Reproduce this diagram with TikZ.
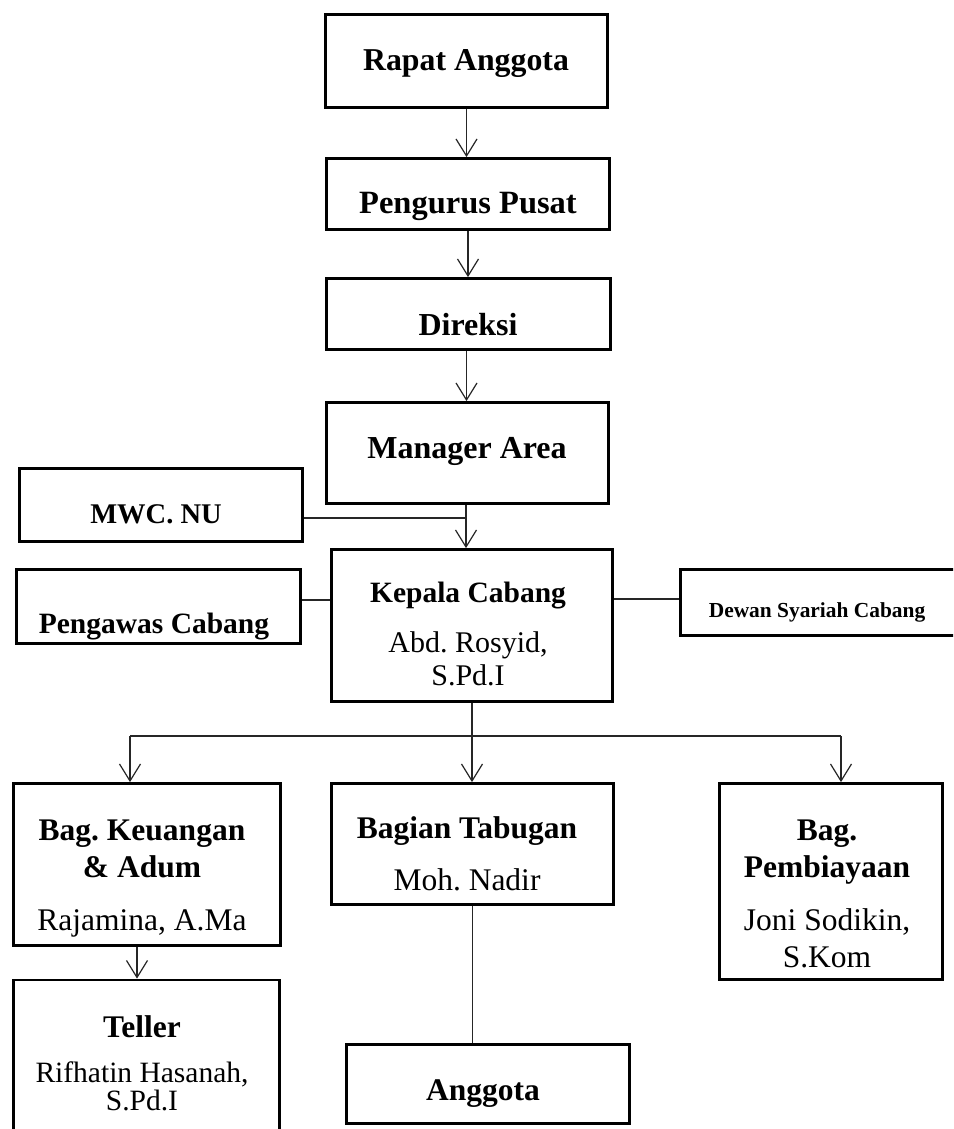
\documentclass[tikz,border=0pt]{standalone}
\usepackage{fontspec}
\setmainfont{Liberation Serif}
\usetikzlibrary{arrows.meta}
\frenchspacing
\begin{document}
\begin{tikzpicture}[x=1pt,y=-1pt,
 box/.style={draw, line width=2.8pt, inner sep=0pt},
 conn/.style={line width=1.2pt, draw=black!85},
 arr/.style={conn, -{Straight Barb[length=17pt,width=21pt,line width=1.2pt]}},
 bt/.style={anchor=base, inner sep=0pt, font=\fontsize{#1}{#1}\selectfont\bfseries},
 bt/.default=31.5,
 rt/.style={anchor=base, inner sep=0pt, font=\fontsize{#1}{#1}\selectfont},
 rt/.default=31.5]
\useasboundingbox (0,0) rectangle (953,1129);
\clip (0,0) rectangle (953,1129);
\fill[white] (0,0) rectangle (953,1129);

% boxes
\node[box, minimum width=282pt, minimum height=93pt] (rapat) at (466.5,61) {};
\node[box, minimum width=283pt, minimum height=71pt] (peng) at (468,194) {};
\node[box, minimum width=284pt, minimum height=71pt] (dir) at (468.5,314) {};
\node[box, minimum width=282pt, minimum height=101pt] (man) at (467.5,453) {};
\node[box, minimum width=283pt, minimum height=73pt] (mwc) at (161,505) {};
\node[box, minimum width=284pt, minimum height=74pt] (pengawas) at (158.5,606.5) {};
\node[box, minimum width=281pt, minimum height=152pt] (kep) at (472,625.5) {};
\node[box, minimum width=283pt, minimum height=66pt] (dewan) at (822,602.5) {};
\node[box, minimum width=267pt, minimum height=162pt] (keu) at (147,864.5) {};
\node[box, minimum width=282pt, minimum height=121pt] (tab) at (472.5,844) {};
\node[box, minimum width=223pt, minimum height=196pt] (pem) at (831,881.5) {};
\node[box, minimum width=266pt, minimum height=180pt] (tel) at (146.5,1070) {};
\node[box, minimum width=283pt, minimum height=79pt] (ang) at (488,1084) {};

% texts
\node[bt=31.8] (t1) at (466,71) {Rapat Anggota};
\node[bt=32.5] (t2) at (468,213) {Pengurus Pusat};
\node[bt=32] (t3) at (468,335) {Direksi};
\node[bt=32] (t4) at (467,458) {Manager Area};
\node[bt=28.5] (t5) at (156,523) {MWC. NU};
\node[bt=29.5] (t6) at (154,633) {Pengawas Cabang};
\node[bt=29.5] (t7) at (468,602) {Kepala Cabang};
\node[rt=30] (t8) at (468,652) {Abd. Rosyid,};
\node[rt=30] (t9) at (468,685) {S.Pd.I};
\node[bt=21.4] (t10) at (817,617) {Dewan Syariah Cabang};
\node[bt] (t11) at (142,840) {Bag. Keuangan};
\node[bt] (t12) at (142,877) {\& Adum};
\node[rt] (t13) at (142,930) {Rajamina, A.Ma};
\node[bt] (t14) at (142,1037) {Teller};
\node[rt=29.5] (t15) at (142,1082) {Rifhatin Hasanah,};
\node[rt=29.5] (t16) at (142,1110) {S.Pd.I};
\node[bt] (t17) at (467,838) {Bagian Tabugan};
\node[rt] (t18) at (467,890) {Moh. Nadir};
\node[bt] (t19) at (483,1100) {Anggota};
\node[bt] (t20) at (827,840) {Bag.};
\node[bt] (t21) at (827,877) {Pembiayaan};
\node[rt] (t22) at (827,930) {Joni Sodikin,};
\node[rt] (t23) at (827,967) {S.Kom};

% connectors
\draw[arr] (rapat.south) -- (rapat.south |- peng.north);
\draw[arr] (peng.south) -- (peng.south |- dir.north);
\draw[arr] ([xshift=-2pt]dir.south) -- ([xshift=-2pt]dir.south |- man.north);
\draw[arr] ([xshift=-1.5pt]man.south) -- ([xshift=-1.5pt]man.south |- kep.north);
\coordinate (j1) at (466,518);
\draw[conn] (mwc.east |- j1) -- (j1);
\coordinate (pw) at (0,600);
\draw[conn] (pengawas.east |- pw) -- (kep.west |- pw);
\coordinate (dw) at (0,599);
\draw[conn] (kep.east |- dw) -- (dewan.west |- dw);
\coordinate (bl) at (130,736);
\coordinate (brr) at (841,736);
\draw[conn] (kep.south) -- (kep.south |- bl);
\draw[conn] (bl) -- (brr);
\draw[arr] (kep.south |- bl) -- (kep.south |- tab.north);
\draw[arr] (bl) -- (bl |- keu.north);
\draw[arr] (brr) -- (brr |- pem.north);
\coordinate (kt) at (137,0);
\draw[arr] (keu.south -| kt) -- (tel.north -| kt);
\draw[conn] (tab.south) -- (tab.south |- ang.north);
\end{tikzpicture}
\end{document}
